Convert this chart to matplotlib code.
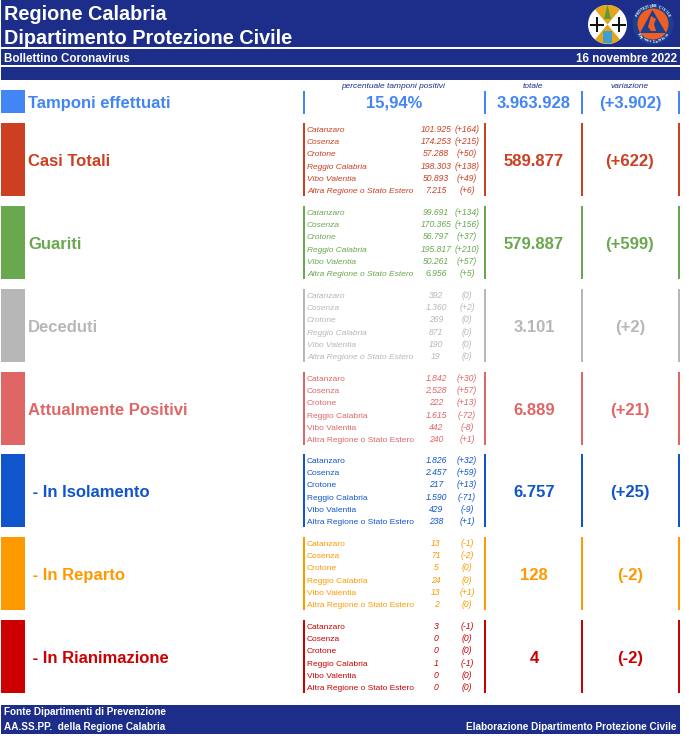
import math
import matplotlib
matplotlib.use("Agg")
import matplotlib.pyplot as plt
from matplotlib.patches import Rectangle, Circle, Polygon, Wedge

plt.rcParams["font.family"] = ["Liberation Sans", "DejaVu Sans"]

NAVY = "#1c2e8a"

provinces = ["Catanzaro", "Cosenza", "Crotone", "Reggio Calabria", "Vibo Valentia", "Altra Regione o Stato Estero"]

row_titles = ["Casi Totali", "Guariti", "Deceduti", "Attualmente Positivi", " - In Isolamento", " - In Reparto", " - In Rianimazione"]
row_colors = ["#cc3f22", "#6aa84f", "#b7b7b7", "#e06666", "#1155cc", "#ff9900", "#cc0000"]
row_tops = [123, 206, 289, 372, 454, 537, 620]
row_totals = ["589.877", "579.887", "3.101", "6.889", "6.757", "128", "4"]
row_deltas = ["(+622)", "(+599)", "(+2)", "(+21)", "(+25)", "(-2)", "(-2)"]

casi = ["101.925", "174.253", "57.288", "198.303", "50.893", "7.215"]
casi_var = ["(+164)", "(+215)", "(+50)", "(+138)", "(+49)", "(+6)"]
guariti = ["99.691", "170.365", "56.797", "195.817", "50.261", "6.956"]
guariti_var = ["(+134)", "(+156)", "(+37)", "(+210)", "(+57)", "(+5)"]
deceduti = ["392", "1.360", "269", "871", "190", "19"]
deceduti_var = ["(0)", "(+2)", "(0)", "(0)", "(0)", "(0)"]
positivi = ["1.842", "2.528", "222", "1.615", "442", "240"]
positivi_var = ["(+30)", "(+57)", "(+13)", "(-72)", "(-8)", "(+1)"]
isolamento = ["1.826", "2.457", "217", "1.590", "429", "238"]
isolamento_var = ["(+32)", "(+59)", "(+13)", "(-71)", "(-9)", "(+1)"]
reparto = ["13", "71", "5", "24", "13", "2"]
reparto_var = ["(-1)", "(-2)", "(0)", "(0)", "(+1)", "(0)"]
rianimazione = ["3", "0", "0", "1", "0", "0"]
rianimazione_var = ["(-1)", "(0)", "(0)", "(-1)", "(0)", "(0)"]

row_values = [casi, guariti, deceduti, positivi, isolamento, reparto, rianimazione]
row_vars = [casi_var, guariti_var, deceduti_var, positivi_var, isolamento_var, reparto_var, rianimazione_var]
# le prime tre righe hanno i nomi in corsivo
italic_names = [True, True, True, False, False, False, False]

line_offsets = [6, 18, 30, 43, 55, 67]
rule_xs = [303.5, 485, 582, 679]

fig = plt.figure(figsize=(6.89, 7.43), dpi=100)
ax = fig.add_axes([0, 0, 1, 1])
ax.set_xlim(0, 689)
ax.set_ylim(743, 0)
ax.axis("off")


def rect(x0, y0, x1, y1, color, z=1):
    ax.add_patch(Rectangle((x0, y0), x1 - x0, y1 - y0, facecolor=color, edgecolor="none", zorder=z))


def txt(x, y, s, size, color="white", weight="normal", style="normal", ha="left", va="center_baseline"):
    ax.text(x, y, s, fontsize=size, color=color, fontweight=weight, fontstyle=style, ha=ha, va=va, zorder=5)


def arc_text(cx, cy, r, s, start, stop, size=2.6):
    # lettere una a una lungo il bordo del logo
    for k, ch in enumerate(s):
        a = math.radians(start + (stop - start) * k / (len(s) - 1))
        rot = start + (stop - start) * k / (len(s) - 1) - 90
        if math.sin(a) < 0:
            rot += 180
        ax.text(cx + r * math.cos(a), cy - r * math.sin(a), ch, fontsize=size, color="white", fontweight="bold",
                rotation=rot, ha="center", va="center", zorder=7)


# testata
rect(1, 0, 680, 80, NAVY)
rect(1, 47, 680, 49, "white", 2)
rect(1, 65, 680, 67, "white", 2)
txt(4, 13, "Regione Calabria", 14.3, weight="bold")
txt(4, 36, "Dipartimento Protezione Civile", 14.3, weight="bold")
txt(4, 57, "Bollettino Coronavirus", 8.4, weight="bold")
txt(677, 57, "16 novembre 2022", 8.4, weight="bold", ha="right")

# stemma regione
ax.add_patch(Circle((607.5, 24.5), 19.5, facecolor="white", edgecolor="none", zorder=3))
ax.add_patch(Wedge((607.5, 24.5), 19.5, 50, 130, facecolor="#e3a51a", edgecolor="none", zorder=4))
ax.add_patch(Wedge((607.5, 24.5), 19.5, 230, 310, facecolor="#e3a51a", edgecolor="none", zorder=4))
ax.add_patch(Polygon([(607.5, 5), (604, 19), (611, 19)], facecolor="#5f9a3a", edgecolor="none", zorder=5))
rect(603, 31, 612, 43, "#3f9fd0", 5)
for cx in (597, 618.5):
    rect(cx - 7, 23.5, cx + 7, 25.5, "#111111", 5)
    rect(cx - 1, 17, cx + 1, 32, "#111111", 5)

# logo protezione civile
ax.add_patch(Circle((653, 24), 20.5, facecolor="#1c3f8f", edgecolor="none", zorder=3))
ax.add_patch(Circle((653, 24), 15.5, facecolor="#ee5f26", edgecolor="none", zorder=4))
ax.add_patch(Polygon([(652.5, 10), (666, 33), (640, 33)], facecolor="#1c3f8f", edgecolor="none", zorder=5))
ax.add_patch(Polygon([(651, 16), (656, 19), (654, 24), (656, 31), (651, 31), (648, 27)], facecolor="#ee5f26", edgecolor="none", zorder=6))
arc_text(653, 24, 17.8, "PROTEZIONE CIVILE", 150, 30)
arc_text(653, 24, 17.8, "Regione Calabria", 215, 325)

# riga tamponi
TAMPONI = "#4285f4"
rect(1, 90, 25, 113, TAMPONI)
txt(28, 102, "Tamponi effettuati", 12, TAMPONI, weight="bold")
for rx in rule_xs:
    rect(rx - 1, 91, rx + 1, 114, TAMPONI)
txt(393, 85, "percentuale tamponi positivi", 6, NAVY, style="italic", ha="center")
txt(533, 85, "totale", 6, NAVY, style="italic", ha="center")
txt(630, 85, "variazione", 6, NAVY, style="italic", ha="center")
txt(394, 102, "15,94%", 12, TAMPONI, weight="bold", ha="center")
txt(534, 102, "3.963.928", 12, TAMPONI, weight="bold", ha="center")
txt(630, 102, "(+3.902)", 12, TAMPONI, weight="bold", ha="center")

# righe regionali
for i in range(len(row_titles)):
    top = row_tops[i]
    c = row_colors[i]
    rect(1, top, 25, top + 73, c)
    txt(28, top + 37, row_titles[i], 12, c, weight="bold")
    for rx in rule_xs:
        rect(rx - 1, top, rx + 1, top + 73, c)
    for j, off in enumerate(line_offsets):
        # stessa linea di base per nome, valore e variazione
        y = top + off + 3
        txt(307, y, provinces[j], 6.0, c, style="italic" if italic_names[i] else "normal", va="baseline")
        txt(436, y, row_values[i][j], 6.2, c, style="italic", ha="center", va="baseline")
        txt(467, y, row_vars[i][j], 6.2, c, style="italic", ha="center", va="baseline")
    txt(534, top + 37, row_totals[i], 12, c, weight="bold", ha="center")
    txt(630, top + 37, row_deltas[i], 12, c, weight="bold", ha="center")

# piede
rect(1, 705, 680, 734, NAVY)
txt(4, 711, "Fonte Dipartimenti di Prevenzione", 7.2, weight="bold")
txt(4, 726, "AA.SS.PP.  della Regione Calabria", 7.2, weight="bold")
txt(677, 726, "Elaborazione Dipartimento Protezione Civile", 7.2, weight="bold", ha="right")

fig.savefig("out.png", dpi=100)
